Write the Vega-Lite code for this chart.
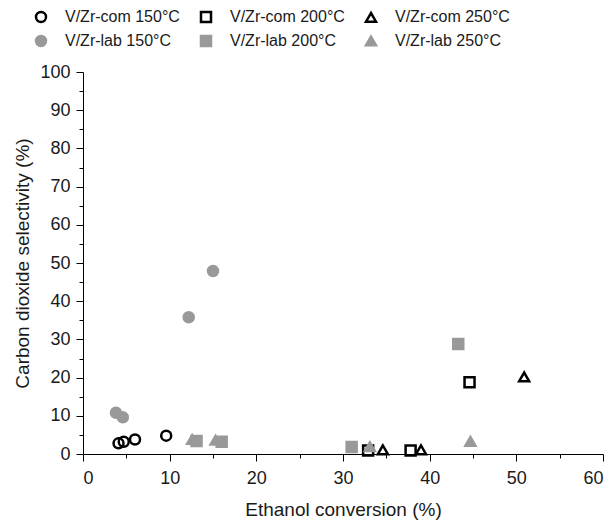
{
  "$schema": "https://vega.github.io/schema/vega-lite/v6.json",
  "width": 520,
  "height": 382,
  "autosize": {"type": "none"},
  "padding": {"left": 83, "top": 72, "right": 11, "bottom": 68},
  "background": "white",
  "config": {
    "view": {"stroke": null},
    "font": "Liberation Sans",
    "axis": {
      "domainColor": "#000000",
      "domainWidth": 1,
      "tickColor": "#000000",
      "tickWidth": 1,
      "grid": false,
      "labelFont": "Liberation Sans",
      "labelFontSize": 18,
      "labelColor": "#1a1a1a",
      "titleFont": "Liberation Sans",
      "titleFontSize": 19,
      "titleFontWeight": "normal",
      "titleColor": "#1a1a1a"
    },
    "legend": {
      "labelFont": "Liberation Sans",
      "labelFontSize": 16,
      "labelColor": "#1a1a1a"
    }
  },
  "data": {
    "values": [
      {"series": "V/Zr-com 150°C", "conv": 4.1, "sel": 2.8},
      {"series": "V/Zr-com 150°C", "conv": 4.7, "sel": 3.2},
      {"series": "V/Zr-com 150°C", "conv": 6.0, "sel": 3.8},
      {"series": "V/Zr-com 150°C", "conv": 9.6, "sel": 4.8},
      {"series": "V/Zr-com 200°C", "conv": 32.9, "sel": 0.9},
      {"series": "V/Zr-com 200°C", "conv": 37.8, "sel": 0.9},
      {"series": "V/Zr-com 200°C", "conv": 44.6, "sel": 18.8},
      {"series": "V/Zr-com 250°C", "conv": 34.6, "sel": 1.1},
      {"series": "V/Zr-com 250°C", "conv": 39.0, "sel": 1.1},
      {"series": "V/Zr-com 250°C", "conv": 50.9, "sel": 20.2},
      {"series": "V/Zr-lab 150°C", "conv": 3.8, "sel": 10.8},
      {"series": "V/Zr-lab 150°C", "conv": 4.6, "sel": 9.6},
      {"series": "V/Zr-lab 150°C", "conv": 12.2, "sel": 35.8},
      {"series": "V/Zr-lab 150°C", "conv": 15.0, "sel": 47.9},
      {"series": "V/Zr-lab 200°C", "conv": 13.1, "sel": 3.4},
      {"series": "V/Zr-lab 200°C", "conv": 16.0, "sel": 3.2},
      {"series": "V/Zr-lab 200°C", "conv": 31.0, "sel": 1.8},
      {"series": "V/Zr-lab 200°C", "conv": 43.3, "sel": 28.8},
      {"series": "V/Zr-lab 250°C", "conv": 12.6, "sel": 3.8},
      {"series": "V/Zr-lab 250°C", "conv": 15.3, "sel": 3.6},
      {"series": "V/Zr-lab 250°C", "conv": 33.1, "sel": 1.9},
      {"series": "V/Zr-lab 250°C", "conv": 44.7, "sel": 3.3}
    ]
  },
  "mark": {"type": "point", "strokeWidth": 2.5, "opacity": 1},
  "encoding": {
    "x": {
      "field": "conv",
      "type": "quantitative",
      "scale": {"domain": [0, 60], "nice": false, "zero": false},
      "axis": {
        "title": "Ethanol conversion (%)",
        "values": [0, 5, 10, 15, 20, 25, 30, 35, 40, 45, 50, 55, 60],
        "labelExpr": "datum.value % 10 === 0 ? datum.label : ''",
        "tickSize": {"condition": {"test": "datum.value % 10 === 0", "value": 7}, "value": 4},
        "labelPadding": 8,
        "titlePadding": 13
      }
    },
    "y": {
      "field": "sel",
      "type": "quantitative",
      "scale": {"domain": [0, 100], "nice": false, "zero": false},
      "axis": {
        "title": "Carbon dioxide selectivity (%)",
        "values": [0, 5, 10, 15, 20, 25, 30, 35, 40, 45, 50, 55, 60, 65, 70, 75, 80, 85, 90, 95, 100],
        "labelExpr": "datum.value % 10 === 0 ? datum.label : ''",
        "tickSize": {"condition": {"test": "datum.value % 10 === 0", "value": 7}, "value": 4},
        "labelPadding": 6,
        "titlePadding": 7
      }
    },
    "shape": {
      "field": "series",
      "type": "nominal",
      "scale": {
        "domain": ["V/Zr-com 150°C", "V/Zr-lab 150°C", "V/Zr-com 200°C", "V/Zr-lab 200°C", "V/Zr-com 250°C", "V/Zr-lab 250°C"],
        "range": ["circle", "circle", "square", "square", "triangle-up", "triangle-up"]
      },
      "legend": {
        "title": null,
        "orient": "none",
        "legendX": -50,
        "legendY": -63,
        "columns": 3,
        "columnPadding": 16,
        "rowPadding": 4,
        "labelOffset": 16,
        "symbolStrokeWidth": 2.5
      }
    },
    "stroke": {
      "field": "series",
      "type": "nominal",
      "scale": {
        "domain": ["V/Zr-com 150°C", "V/Zr-lab 150°C", "V/Zr-com 200°C", "V/Zr-lab 200°C", "V/Zr-com 250°C", "V/Zr-lab 250°C"],
        "range": ["#000000", "#999999", "#000000", "#999999", "#000000", "#999999"]
      },
      "legend": {
        "title": null,
        "orient": "none",
        "legendX": -50,
        "legendY": -63,
        "columns": 3,
        "columnPadding": 16,
        "rowPadding": 4,
        "labelOffset": 16,
        "symbolStrokeWidth": 2.5
      }
    },
    "fill": {
      "field": "series",
      "type": "nominal",
      "scale": {
        "domain": ["V/Zr-com 150°C", "V/Zr-lab 150°C", "V/Zr-com 200°C", "V/Zr-lab 200°C", "V/Zr-com 250°C", "V/Zr-lab 250°C"],
        "range": ["transparent", "#999999", "transparent", "#999999", "transparent", "#999999"]
      },
      "legend": {
        "title": null,
        "orient": "none",
        "legendX": -50,
        "legendY": -63,
        "columns": 3,
        "columnPadding": 16,
        "rowPadding": 4,
        "labelOffset": 16,
        "symbolStrokeWidth": 2.5
      }
    },
    "size": {
      "field": "series",
      "type": "nominal",
      "scale": {
        "domain": ["V/Zr-com 150°C", "V/Zr-lab 150°C", "V/Zr-com 200°C", "V/Zr-lab 200°C", "V/Zr-com 250°C", "V/Zr-lab 250°C"],
        "range": [100, 100, 78, 78, 135, 135]
      },
      "legend": {
        "title": null,
        "orient": "none",
        "legendX": -50,
        "legendY": -63,
        "columns": 3,
        "columnPadding": 16,
        "rowPadding": 4,
        "labelOffset": 16,
        "symbolStrokeWidth": 2.5
      }
    }
  }
}
